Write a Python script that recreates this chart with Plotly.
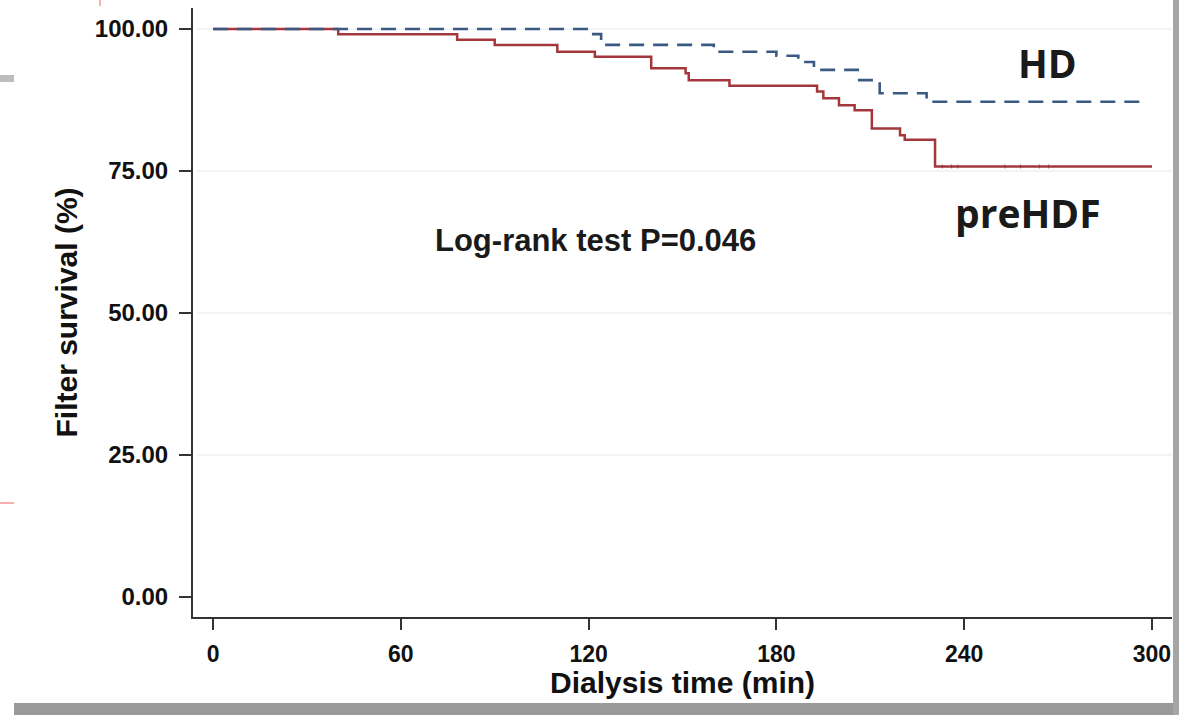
import plotly.graph_objects as go

# ---- data ----
hd_time = [0, 120, 124, 160, 180, 187, 192, 206, 213, 228, 298]
hd_surv = [100, 99.1, 97.2, 96.0, 95.3, 94.2, 92.8, 91.0, 88.7, 87.2, 87.2]

hdf_time = [0, 40, 78, 90, 110, 122, 140, 151, 152, 165, 193, 195, 200, 205, 210.5, 219.5, 221, 230.7, 300]
hdf_surv = [100, 99.1, 98.1, 97.2, 96.0, 95.1, 93.1, 92.2, 91.0, 90.0, 89.0, 87.8, 86.6, 85.7, 82.5, 81.3, 80.5, 75.8, 75.8]

hdf_cens_time = [233, 236, 238, 253, 258, 264, 267]
hdf_cens_surv = [75.8, 75.8, 75.8, 75.8, 75.8, 75.8, 75.8]

x_ticks = [0, 60, 120, 180, 240, 300]
y_ticks = [0, 25, 50, 75, 100]
y_tick_text = ["0.00", "25.00", "50.00", "75.00", "100.00"]
grid_vals = [25, 50, 75, 100]

W, H = 1179, 715
L, R, T, B = 193, 7, 8, 98
PW, PH = W - L - R, H - T - B


def px(xp):
    return (xp - L) / PW


def py(yp):
    return (H - B - yp) / PH


RED = "#a3373c"
BLUE = "#3a5a84"
FONT = "Liberation Sans, Arial, Helvetica, sans-serif"

fig = go.Figure()
fig.add_trace(go.Scatter(x=hdf_time, y=hdf_surv, mode="lines", line_shape="hv",
                         line=dict(color=RED, width=2.5), showlegend=False))
fig.add_trace(go.Scatter(x=hdf_cens_time, y=hdf_cens_surv, mode="markers",
                         marker=dict(symbol="line-ns", size=3, opacity=0.6,
                                     line=dict(color="#7a2a2e", width=1)),
                         showlegend=False))
fig.add_trace(go.Scatter(x=hd_time, y=hd_surv, mode="lines", line_shape="hv",
                         line=dict(color=BLUE, width=2.6, dash="15px,9px"), showlegend=False))

shapes = []
for g in grid_vals:
    shapes.append(dict(type="line", xref="paper", yref="y", x0=px(197), x1=1, y0=g, y1=g,
                       line=dict(color="#e1eaef", width=1.2), layer="below"))
# scan artefacts around the figure
shapes += [
    dict(type="rect", xref="paper", yref="paper", x0=px(14), x1=px(1179), y0=py(715), y1=py(703),
         fillcolor="#9a9a9a", line=dict(width=0)),
    dict(type="rect", xref="paper", yref="paper", x0=px(1173), x1=px(1179), y0=py(715), y1=py(0),
         fillcolor="#a6a6a6", line=dict(width=0)),
    dict(type="rect", xref="paper", yref="paper", x0=px(0), x1=px(14), y0=py(82), y1=py(75),
         fillcolor="#bdbdbd", line=dict(width=0)),
    dict(type="line", xref="paper", yref="paper", x0=px(0), x1=px(14), y0=py(503), y1=py(503),
         line=dict(color="#f07a7a", width=1.2)),
    dict(type="line", xref="paper", yref="paper", x0=px(100), x1=px(100), y0=py(0), y1=py(6),
         line=dict(color="#f07a7a", width=1.2)),
]

annotations = [
    dict(text="Log-rank test P=0.046", xref="paper", yref="paper", x=px(595), y=py(240),
         showarrow=False, font=dict(family=FONT, size=31, color="#1a1a1a", weight="bold"),
         xanchor="center", yanchor="middle"),
    dict(text="HD", xref="paper", yref="paper", x=px(1047), y=py(62),
         showarrow=False, font=dict(family="Open Sans", size=39, color="#1a1a1a", weight="bold"),
         xanchor="center", yanchor="middle"),
    dict(text="preHDF", xref="paper", yref="paper", x=px(1028), y=py(212),
         showarrow=False, font=dict(family="Open Sans", size=39, color="#1a1a1a", weight="bold"),
         xanchor="center", yanchor="middle"),
    dict(text="Dialysis time (min)", xref="paper", yref="paper", x=0.5, y=py(682),
         showarrow=False, font=dict(family=FONT, size=30, color="#111111", weight="bold"),
         xanchor="center", yanchor="middle"),
    dict(text="Filter survival (%)", xref="paper", yref="paper", x=px(66), y=0.5,
         showarrow=False, textangle=-90,
         font=dict(family=FONT, size=30, color="#111111", weight="bold"),
         xanchor="center", yanchor="middle"),
]

fig.update_layout(
    width=W, height=H, autosize=False,
    margin=dict(l=L, r=R, t=T, b=B, pad=0),
    paper_bgcolor="white", plot_bgcolor="white",
    shapes=shapes, annotations=annotations,
    xaxis=dict(range=[-6.4, 306.4], tickvals=x_ticks, ticks="outside", ticklen=11,
               tickwidth=1.5, tickcolor="#333333", showline=True, linecolor="#333333",
               linewidth=2, showgrid=False, zeroline=False,
               tickfont=dict(family=FONT, size=23, color="#111111", weight="bold"),
               ticklabelstandoff=4),
    yaxis=dict(range=[-3.52, 103.7], tickvals=y_ticks, ticktext=y_tick_text, ticks="outside",
               ticklen=12, tickwidth=1.5, tickcolor="#333333", showline=True,
               linecolor="#333333", linewidth=2, showgrid=False, zeroline=False,
               tickfont=dict(family=FONT, size=24, color="#111111", weight="bold"),
               ticklabelstandoff=6),
)

fig.write_html("out.html")
